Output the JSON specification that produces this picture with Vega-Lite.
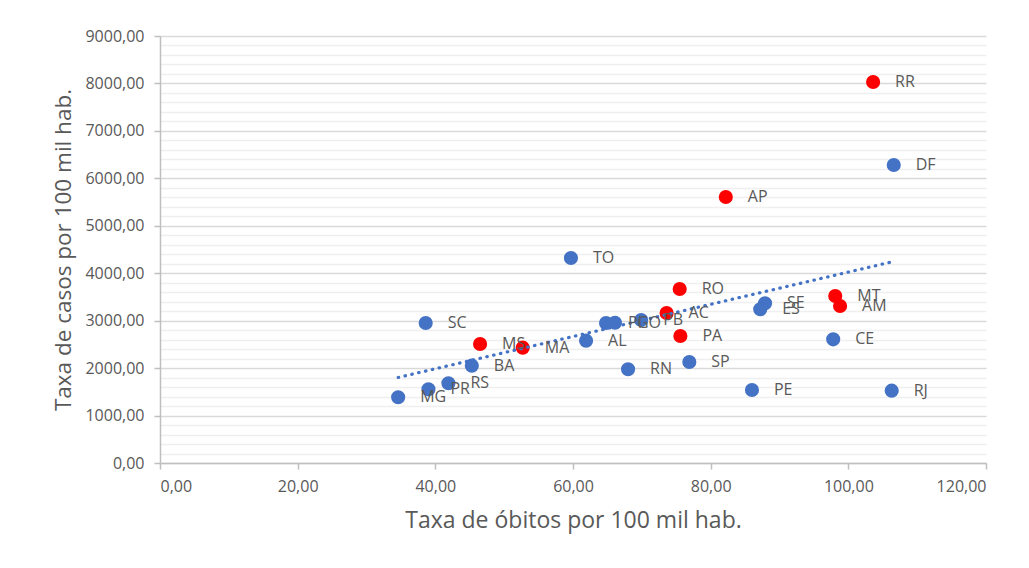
{
  "$schema": "https://vega.github.io/schema/vega-lite/v6.json",
  "width": 826,
  "height": 427,
  "autosize": {"type": "none"},
  "padding": {"left": 160, "top": 36, "right": 43, "bottom": 105},
  "background": "white",
  "config": {
    "locale": {"number": {"decimal": ",", "thousands": ".", "grouping": [3], "currency": ["R$ ", ""]}},
    "view": {"stroke": null},
    "font": "Open Sans"
  },
  "data": {
    "values": [
      {"uf": "RR", "obitos": 103.6, "casos": 8031, "grupo": "destaque"},
      {"uf": "DF", "obitos": 106.6, "casos": 6282, "grupo": "demais"},
      {"uf": "AP", "obitos": 82.2, "casos": 5607, "grupo": "destaque"},
      {"uf": "TO", "obitos": 59.7, "casos": 4321, "grupo": "demais"},
      {"uf": "RO", "obitos": 75.5, "casos": 3668, "grupo": "destaque"},
      {"uf": "SE", "obitos": 87.9, "casos": 3366, "grupo": "demais"},
      {"uf": "ES", "obitos": 87.2, "casos": 3240, "grupo": "demais"},
      {"uf": "MT", "obitos": 98.1, "casos": 3520, "grupo": "destaque"},
      {"uf": "AM", "obitos": 98.8, "casos": 3309, "grupo": "destaque"},
      {"uf": "AC", "obitos": 73.6, "casos": 3162, "grupo": "destaque"},
      {"uf": "PI", "obitos": 64.8, "casos": 2951, "grupo": "demais"},
      {"uf": "GO", "obitos": 66.1, "casos": 2957, "grupo": "demais"},
      {"uf": "PB", "obitos": 69.9, "casos": 3014, "grupo": "demais"},
      {"uf": "SC", "obitos": 38.6, "casos": 2951, "grupo": "demais"},
      {"uf": "MS", "obitos": 46.5, "casos": 2508, "grupo": "destaque"},
      {"uf": "MA", "obitos": 52.7, "casos": 2431, "grupo": "destaque"},
      {"uf": "AL", "obitos": 61.9, "casos": 2578, "grupo": "demais"},
      {"uf": "BA", "obitos": 45.3, "casos": 2051, "grupo": "demais"},
      {"uf": "RN", "obitos": 68.0, "casos": 1975, "grupo": "demais"},
      {"uf": "SP", "obitos": 76.9, "casos": 2129, "grupo": "demais"},
      {"uf": "PA", "obitos": 75.6, "casos": 2677, "grupo": "destaque"},
      {"uf": "RS", "obitos": 41.9, "casos": 1680, "grupo": "demais"},
      {"uf": "PR", "obitos": 39.0, "casos": 1553, "grupo": "demais"},
      {"uf": "MG", "obitos": 34.6, "casos": 1385, "grupo": "demais"},
      {"uf": "CE", "obitos": 97.8, "casos": 2607, "grupo": "demais"},
      {"uf": "PE", "obitos": 86.0, "casos": 1539, "grupo": "demais"},
      {"uf": "RJ", "obitos": 106.3, "casos": 1524, "grupo": "demais"}
    ]
  },
  "encoding": {
    "x": {
      "field": "obitos",
      "type": "quantitative",
      "scale": {"domain": [0, 120], "nice": false},
      "axis": {
        "values": [0, 20, 40, 60, 80, 100, 120],
        "format": ".2f",
        "grid": false,
        "tickSize": 6,
        "tickColor": "#bfbfbf",
        "tickWidth": 1.5,
        "domainColor": "#bfbfbf",
        "domainWidth": 1.5,
        "labelFont": "Open Sans",
        "labelFontSize": 16,
        "labelColor": "#595959",
        "labelPadding": 9,
        "labelOverlap": false,
        "title": "Taxa de óbitos por 100 mil hab.",
        "titleFont": "Open Sans",
        "titleFontSize": 23,
        "titleFontWeight": "normal",
        "titleColor": "#595959",
        "titlePadding": 15
      }
    },
    "y": {
      "field": "casos",
      "type": "quantitative",
      "scale": {"domain": [0, 9000], "nice": false},
      "axis": {
        "values": [0, 200, 400, 600, 800, 1000, 1200, 1400, 1600, 1800, 2000, 2200, 2400, 2600, 2800, 3000, 3200, 3400, 3600, 3800, 4000, 4200, 4400, 4600, 4800, 5000, 5200, 5400, 5600, 5800, 6000, 6200, 6400, 6600, 6800, 7000, 7200, 7400, 7600, 7800, 8000, 8200, 8400, 8600, 8800, 9000],
        "format": ".2f",
        "labelExpr": "datum.value % 1000 === 0 ? datum.label : ''",
        "labelOverlap": false,
        "grid": true,
        "gridColor": {"condition": {"test": "datum.value % 1000 === 0", "value": "#d9d9d9"}, "value": "#efefef"},
        "gridWidth": 1.5,
        "tickColor": "#bfbfbf",
        "tickWidth": 1.5,
        "tickOpacity": {"condition": {"test": "datum.value % 1000 === 0", "value": 1}, "value": 0},
        "tickSize": 6,
        "domainColor": "#bfbfbf",
        "domainWidth": 1.5,
        "labelFont": "Open Sans",
        "labelFontSize": 16,
        "labelColor": "#595959",
        "labelPadding": 10,
        "title": "Taxa de casos por 100 mil hab.",
        "titleFont": "Open Sans",
        "titleFontSize": 22.5,
        "titleFontWeight": "normal",
        "titleColor": "#595959",
        "titlePadding": 9
      }
    }
  },
  "layer": [
    {
      "mark": {"type": "circle", "size": 200, "opacity": 1},
      "encoding": {
        "color": {
          "field": "grupo",
          "type": "nominal",
          "scale": {"domain": ["destaque", "demais"], "range": ["#FF0000", "#4472C4"]},
          "legend": null
        }
      }
    },
    {
      "transform": [{"regression": "casos", "on": "obitos"}],
      "mark": {"type": "line", "color": "#4472C4", "strokeWidth": 3.2, "strokeDash": [0.5, 6.5], "strokeCap": "round"},
      "encoding": {}
    },
    {
      "mark": {"type": "text", "align": "left", "baseline": "middle", "dx": 22, "fontSize": 16, "font": "Open Sans", "color": "#595959"},
      "encoding": {"text": {"field": "uf"}}
    }
  ]
}
